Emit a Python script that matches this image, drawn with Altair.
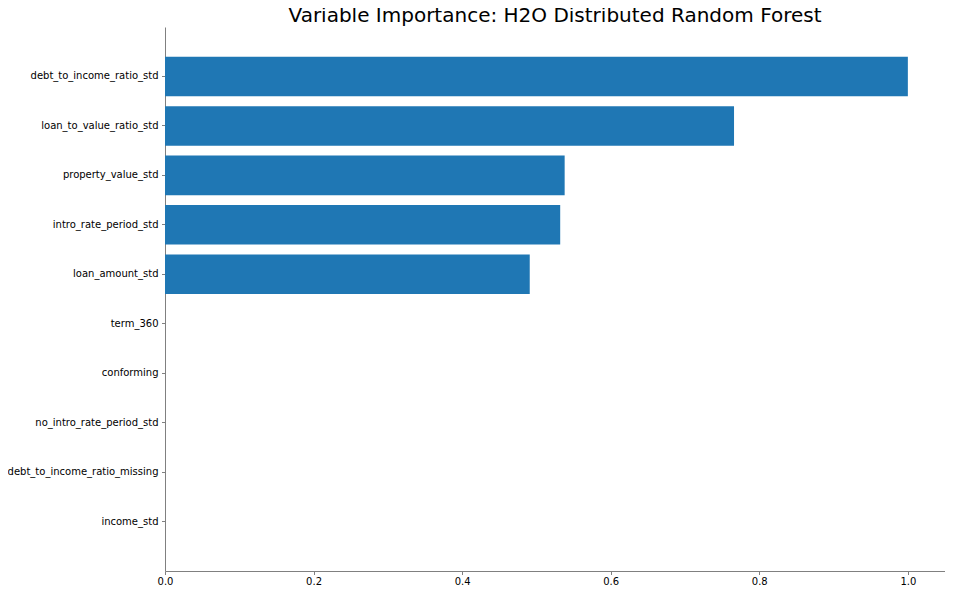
import altair as alt
import pandas as pd

variables = [
    "debt_to_income_ratio_std",
    "loan_to_value_ratio_std",
    "property_value_std",
    "intro_rate_period_std",
    "loan_amount_std",
    "term_360",
    "conforming",
    "no_intro_rate_period_std",
    "debt_to_income_ratio_missing",
    "income_std",
]
importance = [1.0, 0.766, 0.538, 0.532, 0.491, 0.0, 0.0, 0.0, 0.0, 0.0]

df = pd.DataFrame({"variable": variables, "importance": importance})

chart = (
    alt.Chart(df)
    .mark_bar(color="#1f77b4")
    .encode(
        x=alt.X(
            "importance:Q",
            scale=alt.Scale(domain=[0, 1.05], nice=False, zero=True),
            axis=alt.Axis(
                title=None,
                values=[0.0, 0.2, 0.4, 0.6, 0.8, 1.0],
                format=".1f",
                grid=False,
                tickSize=3.5,
                labelPadding=2,
                labelFlush=False,
            ),
        ),
        y=alt.Y(
            "variable:N",
            sort=variables,
            scale=alt.Scale(paddingInner=0.2, paddingOuter=0.6),
            axis=alt.Axis(title=None, grid=False, tickSize=3.5, labelPadding=3.5),
        ),
    )
    .properties(
        width=780,
        height=544,
        title=alt.TitleParams(
            "Variable Importance: H2O Distributed Random Forest",
            fontSize=20,
            font="DejaVu Sans",
            fontWeight="normal",
            color="black",
            anchor="middle",
            frame="group",
            offset=5,
            dy=4,
        ),
        autosize=alt.AutoSizeParams(type="none"),
        padding={"left": 157, "top": 19, "right": 0, "bottom": 16},
    )
    .configure_view(stroke=None)
    .configure_axis(
        domainColor="#808080",
        tickColor="#808080",
        labelColor="black",
        labelFont="DejaVu Sans",
        labelFontSize=10,
        domainWidth=1,
    )
)

chart.save("out.html", embed_options={"renderer": "svg", "actions": False})
